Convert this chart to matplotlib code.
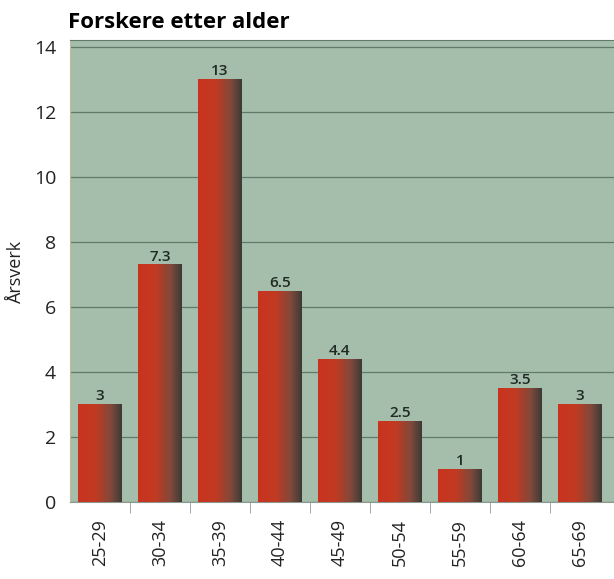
import numpy as np
import matplotlib.pyplot as plt
from matplotlib.colors import LinearSegmentedColormap
from matplotlib.patches import Rectangle

plt.rcParams['font.family'] = ['Open Sans', 'DejaVu Sans']

categories = ['25-29', '30-34', '35-39', '40-44', '45-49', '50-54', '55-59', '60-64', '65-69']
values = [3, 7.3, 13, 6.5, 4.4, 2.5, 1, 3.5, 3]
value_labels = ['3', '7.3', '13', '6.5', '4.4', '2.5', '1', '3.5', '3']

fig = plt.figure(figsize=(6.14, 5.79), dpi=100)
ax = fig.add_axes([70/614, 1 - 502/579, 544/614, (502 - 40)/579])
ax.set_facecolor('#a5bdab')

# red -> dark gray gradient along each bar
cmap = LinearSegmentedColormap.from_list('bar', [(0, '#c9331f'), (0.4, '#c23a22'), (0.75, '#80493a'), (1, '#3b3a36')])
grad = np.linspace(0, 1, 256).reshape(1, -1)
width = 0.72
x = np.arange(len(categories))
for xi, v, lab in zip(x, values, value_labels):
    im = ax.imshow(grad, cmap=cmap, aspect='auto', extent=(xi - width/2, xi + width/2, 0, v), zorder=3)
    rect = Rectangle((xi - width/2, 0), width, v, transform=ax.transData, facecolor='none', edgecolor='none')
    ax.add_patch(rect)
    im.set_clip_path(rect)
    ax.text(xi, v + 0.03, lab, ha='center', va='bottom', fontsize=11, fontweight='semibold', color='#1e2a22', zorder=4)

ax.set_xlim(-0.5, 8.57)
ax.set_ylim(0, 14.2)
ax.set_yticks(np.arange(0, 15, 2))
ax.set_yticklabels([str(t) for t in range(0, 15, 2)], fontsize=14, color='#222222')
ax.yaxis.grid(True, color='#5f7a68', linewidth=0.9)
ax.set_axisbelow(True)
ax.tick_params(axis='y', length=0, pad=10)

ax.set_xticks(x)
ax.set_xticklabels(categories, rotation=90, fontsize=13, color='#222222')
ax.set_xticks(x[:-1] + 0.5, minor=True)
ax.tick_params(axis='x', which='major', length=0, pad=12)
ax.tick_params(axis='x', which='minor', length=8, color='#8a9aa0')

ax.spines['right'].set_visible(False)
ax.spines['left'].set_color('#c8b89a')
ax.spines['bottom'].set_color('#8a9a90')
ax.spines['top'].set_color('#5f7a68')

ax.set_ylabel('Årsverk', fontsize=13, color='#222222', labelpad=6)
fig.text(68/614, 1 - 22/579, 'Forskere etter alder', fontsize=16, fontweight='bold', va='center', ha='left')

fig.savefig('out.png', dpi=100)
